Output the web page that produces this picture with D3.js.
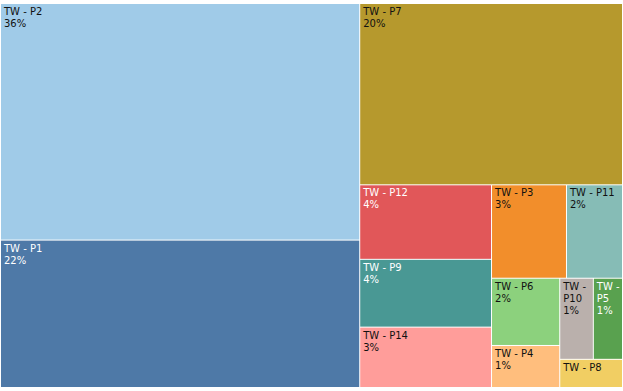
<!DOCTYPE html>
<meta charset="utf-8">
<script src="https://d3js.org/d3.v7.min.js"></script>
<style>
body { margin: 0; background: #fff; }
text { font-family: "DejaVu Sans", sans-serif; font-size: 10px; }
</style>
<body>
<script>
// shares (percent of total)
var names  = ["TW - P2", "TW - P1", "TW - P7", "TW - P12", "TW - P9", "TW - P14", "TW - P3",
              "TW - P11", "TW - P6", "TW - P4", "TW - P10", "TW - P5", "TW - P8"];
var shares = [35.57, 22.16, 19.94, 4.11, 3.74, 3.33, 2.93, 2.19, 1.92, 1.20, 1.14, 0.99, 0.74];
var colors = ["#A0CBE8", "#4E79A7", "#B6992D", "#E15759", "#499894", "#FF9D9A", "#F28E2B",
              "#86BCB6", "#8CD17D", "#FFBE7D", "#BAB0AC", "#59A14F", "#F1CE63"];
var whiteText = ["TW - P1", "TW - P12", "TW - P9", "TW - P5"];

var width = 623, height = 391;

var svg = d3.select("body").append("svg")
    .attr("width", width)
    .attr("height", height);

var rows = names.map(function(n, i) { return {name: n, value: shares[i], color: colors[i]}; });

var root = d3.hierarchy({children: rows})
    .sum(function(d) { return d.value || 0; })
    .sort(function(a, b) { return b.value - a.value; });

d3.treemap()
    .tile(d3.treemapSquarify)
    .size([621, 383])
    .paddingInner(1)(root);

var total = root.value;

var cell = svg.append("g")
    .attr("transform", "translate(1,4)")
    .selectAll("g")
    .data(root.leaves())
    .enter().append("g")
    .attr("transform", function(d) { return "translate(" + d.x0 + "," + d.y0 + ")"; });

cell.append("rect")
    .attr("width", function(d) { return d.x1 - d.x0; })
    .attr("height", function(d) { return d.y1 - d.y0; })
    .attr("fill", function(d) { return d.data.color; });

var measure = svg.append("text").attr("visibility", "hidden");
function textWidth(s) { measure.text(s); return measure.node().getComputedTextLength(); }

// wrap the name into lines that fit the cell, then add the percent line
cell.each(function(d) {
  var w = d.x1 - d.x0 - 5, h = d.y1 - d.y0;
  var parts = d.data.name.split(" - ");
  var lines = textWidth(d.data.name) > w ? [parts[0] + " -", parts[1]] : [d.data.name];
  lines.push(Math.round(d.value / total * 100) + "%");
  lines = lines.filter(function(l, i) { return 5 + (i + 1) * 12 + 2 <= h; });

  d3.select(this).append("text")
    .attr("fill", whiteText.indexOf(d.data.name) >= 0 ? "#fff" : "#111")
    .selectAll("tspan")
    .data(lines)
    .enter().append("tspan")
    .attr("x", 3)
    .attr("y", function(l, i) { return 11 + i * 12; })
    .text(function(l) { return l; });
});
measure.remove();
</script>
</body>
